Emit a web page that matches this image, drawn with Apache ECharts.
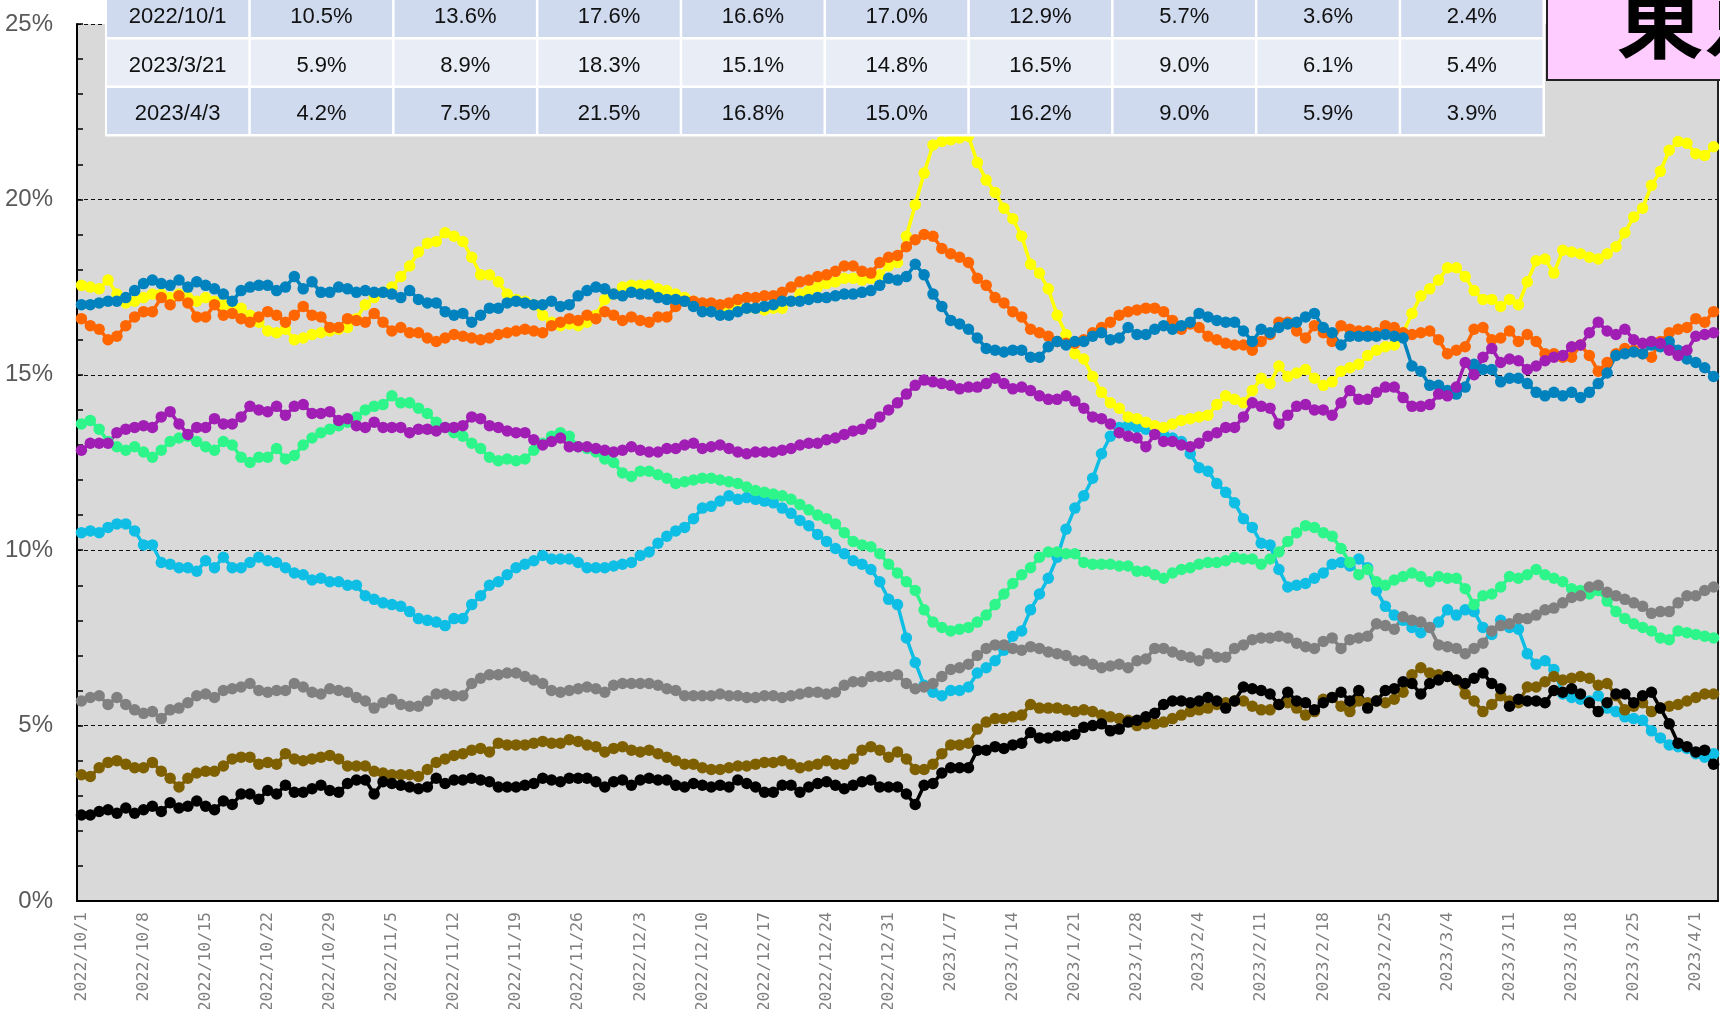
<!DOCTYPE html>
<html>
<head>
<meta charset="utf-8">
<title>支持率推移</title>
<script src="https://cdn.jsdelivr.net/npm/echarts@6/dist/echarts.min.js"></script>
<style>
  html, body { margin: 0; padding: 0; background: #fff; }
  #main { width: 1720px; height: 1009px; }
</style>
</head>
<body>
<div id="main"></div>
<script>
// daily categories 2022/10/1 .. 2023/4/3
var categories = [];
(function () {
  var d = new Date(2022, 9, 1);
  var end = new Date(2023, 3, 3);
  while (d <= end) {
    categories.push(d.getFullYear() + '/' + (d.getMonth() + 1) + '/' + d.getDate());
    d.setDate(d.getDate() + 1);
  }
})();

var cyanData = [
  10.5, 10.55, 10.5, 10.65, 10.75, 10.75, 10.55, 10.15, 10.15, 9.65,
  9.6, 9.5, 9.5, 9.4, 9.7, 9.5, 9.8, 9.5, 9.5, 9.65,
  9.8, 9.7, 9.65, 9.5, 9.35, 9.3, 9.15, 9.2, 9.1, 9.1,
  9.0, 9.0, 8.7, 8.6, 8.5, 8.45, 8.4, 8.25, 8.05, 8.0,
  7.95, 7.85, 8.05, 8.05, 8.45, 8.7, 9.0, 9.1, 9.3, 9.5,
  9.6, 9.7, 9.85, 9.75, 9.75, 9.75, 9.65, 9.5, 9.5, 9.5,
  9.55, 9.6, 9.65, 9.85, 9.95, 10.2, 10.4, 10.55, 10.65, 10.9,
  11.2, 11.25, 11.4, 11.55, 11.45, 11.5, 11.45, 11.4, 11.35, 11.2,
  11.05, 10.85, 10.7, 10.45, 10.25, 10.05, 9.9, 9.7, 9.6, 9.45,
  9.1, 8.6, 8.45, 7.5, 6.8, 6.15, 5.95, 5.85, 6.0, 6.0,
  6.1, 6.5, 6.65, 6.85, 7.15, 7.55, 7.7, 8.3, 8.75, 9.2,
  9.8, 10.6, 11.2, 11.55, 12.05, 12.75, 13.25, 13.5, 13.55, 13.5,
  13.45, 13.4, 13.3, 13.2, 13.1, 12.75, 12.35, 12.25, 11.9, 11.65,
  11.35, 10.9, 10.65, 10.2, 10.15, 9.45, 8.95, 9.0, 9.05, 9.2,
  9.35, 9.6, 9.65, 9.55, 9.75, 9.5, 8.85, 8.4, 8.15, 8.0,
  7.8, 7.65, 7.8, 7.95, 8.3, 8.15, 8.3, 8.25, 7.8, 7.6,
  8.0, 7.8, 7.75, 7.05, 6.75, 6.85, 6.6, 5.9, 5.8, 5.75,
  5.7, 5.85, 5.5, 5.4, 5.25, 5.2, 5.15, 4.85, 4.65, 4.45,
  4.4, 4.35, 4.2, 4.1, 4.2
];
var greenData = [
  13.6, 13.7, 13.45, 13.1, 12.95, 12.85, 12.95, 12.8, 12.65, 12.85,
  13.1, 13.2, 13.25, 13.1, 12.95, 12.85, 13.1, 13.0, 12.65, 12.5,
  12.65, 12.65, 12.9, 12.6, 12.7, 13.0, 13.2, 13.35, 13.45, 13.55,
  13.65, 13.8, 14.0, 14.1, 14.15, 14.4, 14.2, 14.2, 14.05, 13.9,
  13.65, 13.5, 13.35, 13.25, 13.05, 12.9, 12.65, 12.55, 12.6, 12.55,
  12.6, 12.85, 13.05, 13.25, 13.35, 13.25, 12.95, 12.9, 12.8, 12.6,
  12.5, 12.2, 12.1, 12.25, 12.25, 12.15, 12.05, 11.9, 11.95, 12.0,
  12.05, 12.05, 12.0, 11.95, 11.9, 11.8, 11.7, 11.65, 11.6, 11.55,
  11.45, 11.3, 11.15, 11.0, 10.9, 10.75, 10.5, 10.25, 10.15, 10.1,
  9.9, 9.6, 9.35, 9.1, 8.85, 8.3, 7.95, 7.8, 7.7, 7.75,
  7.8, 7.95, 8.15, 8.45, 8.75, 9.05, 9.3, 9.5, 9.8, 9.95,
  9.95, 9.9, 9.9, 9.65, 9.6, 9.6, 9.6, 9.55, 9.55, 9.4,
  9.4, 9.3, 9.2, 9.35, 9.45, 9.5, 9.6, 9.65, 9.65, 9.7,
  9.8, 9.75, 9.75, 9.6, 9.75, 9.95, 10.25, 10.5, 10.7, 10.65,
  10.5, 10.4, 10.05, 9.65, 9.3, 9.45, 9.1, 9.0, 9.15, 9.25,
  9.35, 9.25, 9.1, 9.25, 9.2, 9.2, 8.9, 8.45, 8.7, 8.75,
  8.95, 9.25, 9.2, 9.3, 9.45, 9.3, 9.2, 9.1, 8.9, 8.85,
  8.75, 8.85, 8.55, 8.25, 8.05, 7.9, 7.8, 7.7, 7.5, 7.45,
  7.7, 7.65, 7.6, 7.55, 7.5
];
var yellowData = [
  17.55, 17.5, 17.45, 17.7, 17.3, 17.05, 17.1, 17.2, 17.3, 17.3,
  17.2, 17.3, 17.2, 17.1, 17.2, 17.1, 17.0, 16.9, 16.9, 16.7,
  16.5, 16.25, 16.2, 16.3, 16.0, 16.05, 16.15, 16.2, 16.25, 16.3,
  16.35, 16.6, 17.0, 17.2, 17.35, 17.5, 17.8, 18.1, 18.5, 18.75,
  18.8, 19.05, 18.95, 18.8, 18.35, 17.85, 17.85, 17.65, 17.3, 17.15,
  17.1, 17.0, 16.7, 16.5, 16.4, 16.45, 16.4, 16.5, 16.7, 17.15,
  17.3, 17.5, 17.55, 17.55, 17.55, 17.45, 17.4, 17.3, 17.2, 17.1,
  17.0, 16.95, 16.9, 16.85, 16.9, 16.9, 16.9, 16.85, 16.9, 16.9,
  17.1, 17.3, 17.4, 17.5, 17.6, 17.65, 17.75, 17.75, 17.7, 17.75,
  17.85, 18.1, 18.2, 18.95, 19.85, 20.75, 21.55, 21.65, 21.7, 21.75,
  21.8, 21.05, 20.55, 20.2, 19.75, 19.45, 18.95, 18.15, 17.9, 17.45,
  16.7, 16.15, 15.6, 15.45, 14.95, 14.5, 14.2, 14.05, 13.8, 13.75,
  13.65, 13.55, 13.5, 13.6, 13.7, 13.75, 13.8, 13.85, 14.15, 14.4,
  14.3, 14.2, 14.55, 14.9, 14.75, 15.25, 14.95, 15.05, 15.15, 14.9,
  14.7, 14.8, 15.1, 15.2, 15.3, 15.55, 15.7, 15.8, 15.85, 16.2,
  16.75, 17.25, 17.45, 17.7, 18.05, 18.05, 17.8, 17.4, 17.15, 17.15,
  16.95, 17.15, 17.0, 17.65, 18.25, 18.3, 17.9, 18.55, 18.5, 18.45,
  18.35, 18.3, 18.45, 18.65, 19.05, 19.5, 19.75, 20.4, 20.8, 21.4,
  21.65, 21.6, 21.3, 21.25, 21.5
];
var orangeData = [
  16.6, 16.4, 16.3, 16.0, 16.1, 16.4, 16.65, 16.8, 16.8, 17.2,
  17.0, 17.25, 17.05, 16.65, 16.65, 17.0, 16.7, 16.75, 16.6, 16.5,
  16.65, 16.8, 16.7, 16.5, 16.7, 16.95, 16.7, 16.65, 16.35, 16.35,
  16.6, 16.55, 16.5, 16.75, 16.5, 16.25, 16.35, 16.2, 16.2, 16.05,
  15.95, 16.05, 16.15, 16.1, 16.05, 16.0, 16.05, 16.15, 16.2, 16.25,
  16.3, 16.25, 16.2, 16.4, 16.5, 16.6, 16.55, 16.7, 16.6, 16.8,
  16.7, 16.55, 16.65, 16.55, 16.5, 16.65, 16.65, 16.95, 17.1, 17.1,
  17.05, 17.05, 17.0, 17.05, 17.15, 17.2, 17.2, 17.25, 17.25, 17.35,
  17.5, 17.65, 17.7, 17.8, 17.85, 17.95, 18.1, 18.1, 17.95, 17.9,
  18.2, 18.35, 18.4, 18.65, 18.85, 19.0, 18.95, 18.6, 18.45, 18.35,
  18.2, 17.75, 17.55, 17.2, 17.05, 16.8, 16.65, 16.3, 16.2, 16.1,
  15.95, 15.9, 15.9, 16.0, 16.2, 16.35, 16.5, 16.7, 16.8, 16.85,
  16.9, 16.9, 16.8, 16.55, 16.3, 16.45, 16.35, 16.1, 16.0, 15.9,
  15.85, 15.85, 15.7, 15.95, 16.15, 16.5, 16.5, 16.25, 16.05, 16.4,
  16.2, 15.95, 16.4, 16.3, 16.25, 16.25, 16.2, 16.4, 16.35, 16.2,
  16.15, 16.2, 16.25, 16.0, 15.6, 15.7, 15.8, 16.3, 16.35, 16.0,
  16.05, 16.25, 15.95, 16.15, 15.95, 15.6, 15.6, 15.5, 15.5, 15.85,
  15.55, 15.1, 15.35, 15.6, 15.75, 15.7, 15.6, 15.5, 15.95, 16.2,
  16.3, 16.35, 16.6, 16.5, 16.8
];
var blueData = [
  17.0, 17.0, 17.05, 17.1, 17.1, 17.2, 17.4, 17.6, 17.7, 17.6,
  17.55, 17.7, 17.5, 17.65, 17.55, 17.45, 17.3, 17.1, 17.4, 17.5,
  17.55, 17.55, 17.4, 17.5, 17.8, 17.45, 17.65, 17.35, 17.35, 17.5,
  17.45, 17.35, 17.4, 17.35, 17.35, 17.3, 17.2, 17.4, 17.15, 17.05,
  17.05, 16.8, 16.7, 16.75, 16.5, 16.7, 16.9, 16.9, 17.05, 17.1,
  17.05, 17.0, 17.0, 17.1, 16.95, 17.0, 17.25, 17.4, 17.5, 17.45,
  17.3, 17.25, 17.35, 17.3, 17.3, 17.2, 17.15, 17.15, 17.1, 16.95,
  16.8, 16.8, 16.7, 16.7, 16.8, 16.9, 16.9, 16.95, 17.0, 17.1,
  17.1, 17.1, 17.15, 17.2, 17.2, 17.25, 17.3, 17.3, 17.35, 17.4,
  17.55, 17.75, 17.7, 17.8, 18.15, 17.85, 17.3, 16.95, 16.55, 16.45,
  16.3, 16.05, 15.75, 15.7, 15.65, 15.7, 15.7, 15.5, 15.5, 15.8,
  15.95, 15.85, 15.95, 15.95, 16.1, 16.2, 16.0, 16.05, 16.35, 16.15,
  16.15, 16.3, 16.4, 16.3, 16.4, 16.5, 16.75, 16.65, 16.55, 16.5,
  16.5, 16.25, 15.95, 16.3, 16.2, 16.35, 16.45, 16.5, 16.65, 16.75,
  16.35, 16.2, 15.85, 16.1, 16.1, 16.1, 16.1, 16.15, 16.1, 16.05,
  15.25, 15.1, 14.7, 14.7, 14.55, 14.45, 14.65, 15.3, 15.15, 15.15,
  14.8, 14.9, 14.9, 14.75, 14.5, 14.4, 14.5, 14.4, 14.5, 14.35,
  14.5, 14.75, 15.05, 15.55, 15.6, 15.65, 15.6, 15.85, 15.8, 15.95,
  15.7, 15.45, 15.35, 15.2, 14.95
];
var purpleData = [
  12.85, 13.05, 13.05, 13.05, 13.35, 13.45, 13.5, 13.55, 13.5, 13.8,
  13.95, 13.6, 13.3, 13.5, 13.5, 13.75, 13.6, 13.6, 13.8, 14.1,
  14.0, 13.95, 14.1, 13.85, 14.1, 14.15, 13.9, 13.9, 13.95, 13.7,
  13.75, 13.55, 13.5, 13.65, 13.5, 13.5, 13.5, 13.35, 13.45, 13.45,
  13.4, 13.5, 13.5, 13.55, 13.8, 13.75, 13.55, 13.5, 13.4, 13.35,
  13.35, 13.15, 13.0, 13.1, 13.2, 12.95, 12.95, 12.95, 12.9, 12.85,
  12.8, 12.85, 12.95, 12.85, 12.8, 12.8, 12.9, 12.9, 13.0, 13.05,
  12.9, 12.95, 13.0, 12.9, 12.8, 12.75, 12.8, 12.8, 12.8, 12.85,
  12.9, 13.0, 13.05, 13.05, 13.15, 13.2, 13.3, 13.4, 13.45, 13.6,
  13.8, 14.0, 14.2, 14.45, 14.7, 14.85, 14.8, 14.75, 14.7, 14.6,
  14.65, 14.65, 14.75, 14.9, 14.75, 14.6, 14.65, 14.55, 14.4, 14.3,
  14.3, 14.4, 14.25, 14.05, 13.8, 13.75, 13.6, 13.35, 13.25, 13.2,
  12.95, 13.3, 13.1, 13.1, 13.0, 12.95, 13.05, 13.25, 13.35, 13.5,
  13.5, 13.8, 14.2, 14.1, 14.05, 13.6, 13.85, 14.1, 14.15, 14.0,
  14.0, 13.85, 14.2, 14.55, 14.3, 14.3, 14.5, 14.65, 14.65, 14.35,
  14.1, 14.1, 14.15, 14.45, 14.4, 14.65, 15.35, 15.0, 15.5, 15.75,
  15.35, 15.45, 15.4, 15.15, 15.25, 15.4, 15.5, 15.55, 15.8, 15.85,
  16.2, 16.5, 16.25, 16.15, 16.3, 16.0, 15.9, 15.95, 15.9, 15.7,
  15.55, 15.7, 16.1, 16.15, 16.2
];
var grayData = [
  5.7, 5.8, 5.85, 5.6, 5.8, 5.6, 5.45, 5.35, 5.4, 5.2,
  5.45, 5.5, 5.65, 5.85, 5.9, 5.8, 6.0, 6.05, 6.1, 6.2,
  6.0, 5.95, 6.0, 6.0, 6.2, 6.1, 5.95, 5.9, 6.05, 6.0,
  5.95, 5.8, 5.7, 5.5, 5.65, 5.75, 5.6, 5.55, 5.55, 5.7,
  5.9, 5.9, 5.85, 5.85, 6.2, 6.35, 6.45, 6.45, 6.5, 6.5,
  6.4, 6.3, 6.2, 6.0, 5.95, 6.0, 6.05, 6.1, 6.05, 5.95,
  6.15, 6.2, 6.2, 6.2, 6.2, 6.15, 6.05, 6.0, 5.85, 5.85,
  5.85, 5.85, 5.9, 5.85, 5.85, 5.8, 5.8, 5.85, 5.85, 5.8,
  5.85, 5.9, 5.95, 5.95, 5.9, 5.95, 6.15, 6.25, 6.25, 6.4,
  6.4, 6.4, 6.45, 6.2, 6.05, 6.1, 6.2, 6.4, 6.6, 6.65,
  6.75, 7.0, 7.2, 7.3, 7.3, 7.2, 7.15, 7.25, 7.2, 7.1,
  7.05, 7.0, 6.85, 6.85, 6.75, 6.65, 6.7, 6.75, 6.65, 6.85,
  6.9, 7.2, 7.2, 7.1, 7.0, 6.95, 6.85, 7.05, 6.95, 6.95,
  7.2, 7.3, 7.45, 7.5, 7.5, 7.55, 7.5, 7.35, 7.25, 7.2,
  7.4, 7.5, 7.2, 7.45, 7.5, 7.55, 7.9, 7.85, 7.75, 8.1,
  8.0, 7.95, 7.8, 7.3, 7.25, 7.2, 7.05, 7.2, 7.35, 7.7,
  7.85, 7.9, 8.05, 8.05, 8.15, 8.3, 8.35, 8.5, 8.65, 8.7,
  8.95, 9.0, 8.8, 8.7, 8.6, 8.5, 8.4, 8.2, 8.25, 8.25,
  8.5, 8.7, 8.7, 8.85, 8.95
];
var brownData = [
  3.6, 3.55, 3.8, 3.95, 4.0, 3.9, 3.8, 3.8, 3.95, 3.7,
  3.5, 3.25, 3.5, 3.65, 3.7, 3.7, 3.85, 4.05, 4.1, 4.1,
  3.9, 3.95, 3.9, 4.2, 4.05, 4.0, 4.05, 4.1, 4.15, 4.05,
  3.85, 3.85, 3.85, 3.7, 3.65, 3.6, 3.6, 3.6, 3.55, 3.75,
  3.95, 4.05, 4.15, 4.2, 4.3, 4.35, 4.25, 4.5, 4.45, 4.45,
  4.45, 4.5, 4.55, 4.5, 4.5, 4.6, 4.55, 4.45, 4.4, 4.25,
  4.35, 4.4, 4.3, 4.25, 4.3, 4.2, 4.1, 4.0, 3.9, 3.9,
  3.8, 3.75, 3.75, 3.8, 3.85, 3.85, 3.9, 3.95, 3.95, 4.0,
  3.9, 3.8, 3.85, 3.9, 4.0, 3.9, 3.9, 4.05, 4.3, 4.4,
  4.3, 4.1, 4.25, 4.05, 3.75, 3.75, 3.9, 4.2, 4.45, 4.45,
  4.5, 4.9, 5.1, 5.2, 5.2, 5.25, 5.3, 5.6, 5.5, 5.5,
  5.5, 5.45, 5.4, 5.45, 5.4, 5.3, 5.25, 5.2, 5.15, 5.0,
  5.05, 5.05, 5.1, 5.2, 5.3, 5.4, 5.45, 5.5, 5.6, 5.65,
  5.7, 5.7, 5.55, 5.45, 5.45, 5.6, 5.65, 5.5, 5.3, 5.4,
  5.75, 5.8, 5.55, 5.4, 5.7, 5.65, 5.7, 5.65, 5.75, 5.95,
  6.45, 6.65, 6.5, 6.45, 6.4, 6.3, 5.9, 5.7, 5.4, 5.6,
  5.85, 5.7, 5.65, 6.1, 6.1, 6.25, 6.4, 6.3, 6.35, 6.4,
  6.35, 6.15, 6.2, 5.85, 5.45, 5.55, 5.65, 5.4, 5.5, 5.55,
  5.6, 5.7, 5.8, 5.9, 5.9
];
var blackData = [
  2.45, 2.45, 2.55, 2.6, 2.5, 2.65, 2.5, 2.6, 2.7, 2.55,
  2.8, 2.65, 2.7, 2.85, 2.7, 2.6, 2.85, 2.75, 3.05, 3.05,
  2.9, 3.15, 3.05, 3.3, 3.1, 3.1, 3.2, 3.3, 3.15, 3.1,
  3.35, 3.45, 3.45, 3.05, 3.4, 3.35, 3.3, 3.25, 3.2, 3.25,
  3.5, 3.35, 3.45, 3.45, 3.5, 3.45, 3.4, 3.25, 3.25, 3.25,
  3.3, 3.35, 3.5, 3.45, 3.4, 3.5, 3.5, 3.5, 3.4, 3.25,
  3.4, 3.45, 3.3, 3.45, 3.5, 3.45, 3.45, 3.3, 3.25, 3.35,
  3.3, 3.25, 3.3, 3.25, 3.45, 3.35, 3.25, 3.1, 3.1, 3.3,
  3.3, 3.1, 3.25, 3.35, 3.4, 3.3, 3.2, 3.3, 3.4, 3.45,
  3.25, 3.25, 3.25, 3.05, 2.75, 3.3, 3.35, 3.65, 3.8, 3.8,
  3.8, 4.3, 4.3, 4.4, 4.35, 4.45, 4.5, 4.8, 4.65, 4.65,
  4.7, 4.7, 4.75, 4.95, 5.0, 5.05, 4.85, 4.9, 5.1, 5.15,
  5.25, 5.35, 5.6, 5.7, 5.7, 5.65, 5.7, 5.8, 5.7, 5.5,
  5.7, 6.1, 6.05, 6.0, 5.9, 5.6, 5.95, 5.7, 5.65, 5.45,
  5.65, 5.8, 5.95, 5.7, 6.0, 5.5, 5.7, 6.0, 6.05, 6.25,
  6.2, 5.9, 6.2, 6.3, 6.4, 6.3, 6.2, 6.35, 6.5, 6.2,
  6.05, 5.55, 5.75, 5.7, 5.7, 5.65, 6.0, 5.95, 6.05, 5.9,
  5.65, 5.4, 5.65, 5.9, 5.9, 5.65, 5.85, 5.95, 5.5, 5.05,
  4.5, 4.4, 4.25, 4.3, 3.9
];

var seriesNames = ['cyan', 'green', 'yellow', 'orange', 'blue', 'purple', 'gray', 'brown', 'black'];
var seriesColors = ['#0EBEE4', '#2EF58A', '#FFFF00', '#FF6600', '#0082BE', '#A01EB4', '#808080', '#7F6000', '#000000'];
var seriesData = [cyanData, greenData, yellowData, orangeData, blueData, purpleData, grayData, brownData, blackData];

// table shown over the top of the plot
var tableDates = ['2022/10/1', '2023/3/21', '2023/4/3'];
var tableRow1 = ['10.5%', '13.6%', '17.6%', '16.6%', '17.0%', '12.9%', '5.7%', '3.6%', '2.4%'];
var tableRow2 = ['5.9%', '8.9%', '18.3%', '15.1%', '14.8%', '16.5%', '9.0%', '6.1%', '5.4%'];
var tableRow3 = ['4.2%', '7.5%', '21.5%', '16.8%', '15.0%', '16.2%', '9.0%', '5.9%', '3.9%'];
var tableRows = [tableRow1, tableRow2, tableRow3];
var titleText = '東京';

var chart = echarts.init(document.getElementById('main'));

var graphics = [];
var tblLeft = 105, colW = 143.8, rowTop0 = -11, rowH = 48.5;
graphics.push({
  type: 'rect', z: 100,
  shape: { x: tblLeft, y: rowTop0, width: colW * 10 + 2, height: rowH * 3 + 2 },
  style: { fill: '#ffffff' }
});
for (var r = 0; r < 3; r++) {
  var cells = [tableDates[r]].concat(tableRows[r]);
  for (var c = 0; c < cells.length; c++) {
    var x0 = tblLeft + 2 + c * colW;
    var y0 = rowTop0 + 2 + r * rowH;
    graphics.push({
      type: 'rect', z: 101,
      shape: { x: x0, y: y0, width: colW - 2.5, height: rowH - 2.5 },
      style: { fill: r === 1 ? '#E9EDF6' : '#CFDAEE' }
    });
    graphics.push({
      type: 'text', z: 102,
      x: x0 + (colW - 2.5) / 2, y: y0 + (rowH - 2.5) / 2 + 3,
      style: {
        text: cells[c], fill: '#111111', align: 'center', verticalAlign: 'middle',
        font: '22px "Liberation Sans", Arial, sans-serif'
      }
    });
  }
}
// title box
graphics.push({
  type: 'rect', z: 100,
  shape: { x: 1547, y: -10, width: 200, height: 90 },
  style: { fill: '#FFCCFF', stroke: '#222222', lineWidth: 2 }
});
graphics.push({
  type: 'text', z: 101,
  x: 1616, y: 18,
  style: {
    text: titleText, fill: '#000000', align: 'left', verticalAlign: 'middle',
    font: 'bold 88px "Noto Sans CJK JP", sans-serif'
  }
});

var option = {
  animation: false,
  backgroundColor: '#ffffff',
  grid: {
    left: 77, top: 24, width: 1641, height: 877,
    outerBoundsMode: 'none',
    containLabel: false,
    show: true, backgroundColor: '#D9D9D9', borderWidth: 0
  },
  xAxis: [{
    type: 'category',
    data: categories,
    boundaryGap: true,
    axisLine: { show: false },
    axisTick: { show: false },
    axisLabel: {
      interval: 6, rotate: 90, margin: 11,
      color: '#7F7F7F', fontSize: 16.5, fontFamily: '"DejaVu Sans Mono", monospace'
    },
    splitLine: { show: false }
  }, {
    type: 'category',
    data: categories,
    position: 'top',
    axisLine: { show: true, lineStyle: { color: '#000', width: 2 } },
    axisTick: { show: false },
    axisLabel: { show: false }
  }],
  yAxis: [{
    type: 'value',
    min: 0, max: 25, interval: 5,
    axisLine: { show: true, lineStyle: { color: '#000', width: 2 } },
    axisTick: { show: true, inside: true, length: 6, lineStyle: { color: '#000', width: 1.5 } },
    minorTick: { show: true, splitNumber: 5, length: 6, lineStyle: { color: '#000', width: 1.5 } },
    axisLabel: {
      formatter: '{value}%', margin: 24,
      color: '#595959', fontSize: 24, fontFamily: '"Liberation Sans", Arial, sans-serif'
    },
    splitLine: { show: true, lineStyle: { color: '#111', width: 1, type: [4, 3] } },
    minorSplitLine: { show: false }
  }, {
    type: 'value',
    position: 'right',
    min: 0, max: 25,
    axisLine: { show: true, lineStyle: { color: '#222', width: 2 } },
    axisTick: { show: false },
    axisLabel: { show: false },
    splitLine: { show: false }
  }],
  series: seriesData.map(function (d, k) {
    return {
      name: seriesNames[k],
      type: 'line',
      data: d,
      symbol: 'circle',
      symbolSize: 11.5,
      showAllSymbol: true,
      lineStyle: { color: seriesColors[k], width: 3.5 },
      itemStyle: { color: seriesColors[k], borderWidth: 0 },
      silent: true
    };
  }),
  graphic: graphics
};

chart.setOption(option);
</script>
</body>
</html>
